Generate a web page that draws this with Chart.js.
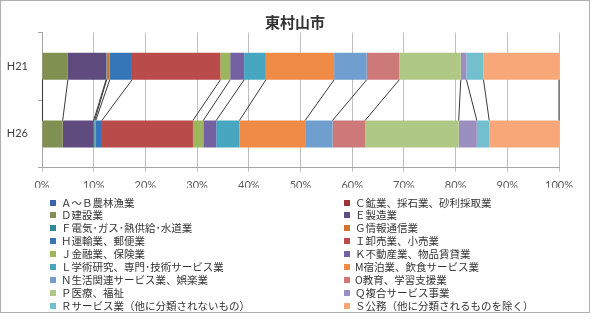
<!DOCTYPE html>
<html lang="ja">
<head>
<meta charset="utf-8">
<script src="https://cdn.jsdelivr.net/npm/chart.js@4/dist/chart.umd.min.js"></script>
<style>
  html, body { margin: 0; padding: 0; background: #fff; }
  #wrap { position: relative; width: 592px; height: 322px; overflow: hidden; }
  #frame { position: absolute; left: 0; top: 0; width: 590px; height: 313px; box-sizing: border-box; border: 1px solid #B0B0B0; }
  #title { position: absolute; left: 195px; width: 200px; top: 11px; text-align: center; font: bold 15px "Noto Sans CJK JP", sans-serif; color: #333; line-height: 22px; }
  #chart { position: absolute; left: 0; top: 0; }
  #legend { position: absolute; left: 0; top: 194.5px; width: 592px; }
  .item { position: absolute; height: 13px; line-height: 13px; font: 10.5px "Noto Sans CJK JP", sans-serif; color: #333; white-space: nowrap; }
  .item i { display: inline-block; width: 6px; height: 6px; margin-right: 5px; vertical-align: 1px; }
</style>
</head>
<body>
<div id="wrap">
  <div id="frame"></div>
  <canvas id="chart" width="592" height="322"></canvas>
  <div id="title">東村山市</div>
  <div id="legend"></div>
</div>
<script>
// 年次
const categories = ['H21', 'H26'];

// 産業大分類
const industries = [
    'Ａ～Ｂ農林漁業',
    'Ｃ鉱業、採石業、砂利採取業',
    'Ｄ建設業',
    'Ｅ製造業',
    'Ｆ電気･ガス･熱供給･水道業',
    'Ｇ情報通信業',
    'Ｈ運輸業、郵便業',
    'Ｉ卸売業、小売業',
    'Ｊ金融業、保険業',
    'Ｋ不動産業、物品賃貸業',
    'Ｌ学術研究、専門･技術サービス業',
    'M宿泊業、飲食サービス業',
    'Ｎ生活関連サービス業、娯楽業',
    'O教育、学習支援業',
    'Ｐ医療、福祉',
    'Ｑ複合サービス事業',
    'Ｒサービス業（他に分類されないもの）',
    'Ｓ公務（他に分類されるものを除く）'
];

// 構成比(%)
const valuesH21 = [0.1, 0.0, 4.9, 7.4, 0.1, 0.6, 4.3, 17.1, 1.9, 2.7, 4.2, 13.2, 6.3, 6.3, 11.9, 1.1, 3.3, 14.6];
const valuesH26 = [0.1, 0.0, 3.9, 6.0, 0.2, 0.2, 1.2, 17.6, 2.0, 2.5, 4.5, 12.7, 5.3, 6.3, 18.1, 3.5, 2.4, 13.5];

const colors = [
    '#3465A4', '#9B3532', '#7F9050', '#5F4B7D', '#31879A', '#D2742F',
    '#3576B8', '#B94B4A', '#9BB65D', '#7361A1', '#47A7C0', '#EF8A47',
    '#6F9ECF', '#CE7979', '#AFC886', '#9B8FBF', '#73BFCE', '#F8A878'
];

// Excelの区分線みたいなやつ
const seriesLines = {
    id: 'seriesLines',
    afterDatasetsDraw(chart) {
        const ctx = chart.ctx;
        ctx.save();
        ctx.strokeStyle = '#3a3a3a';
        ctx.lineWidth = 1;
        chart.data.datasets.forEach((ds, i) => {
            const bars = chart.getDatasetMeta(i).data;
            for (let j = 0; j < bars.length - 1; j++) {
                const a = bars[j], b = bars[j + 1];
                ctx.beginPath();
                ctx.moveTo(a.x, a.y + a.height / 2);
                ctx.lineTo(b.x, b.y - b.height / 2);
                ctx.stroke();
            }
        });
        ctx.restore();
    }
};

const datasets = industries.map((name, i) => ({
    label: name,
    data: [valuesH21[i], valuesH26[i]],
    backgroundColor: colors[i],
    borderWidth: 0,
    barPercentage: 0.4,
    categoryPercentage: 1
}));

new Chart(document.getElementById('chart'), {
    type: 'bar',
    data: { labels: categories, datasets: datasets },
    plugins: [seriesLines],
    options: {
        indexAxis: 'y',
        responsive: false,
        animation: false,
        layout: { padding: { left: 0, right: 33, top: 32.5, bottom: 134.3 } },
        plugins: {
            legend: { display: false },
            title: { display: false },
            tooltip: { enabled: false }
        },
        scales: {
            x: {
                stacked: true,
                min: 0,
                max: 100,
                ticks: {
                    stepSize: 10,
                    callback: v => v + '%',
                    color: '#595959',
                    font: { family: 'Lato', size: 11 },
                    padding: 7
                },
                grid: { color: '#BFBFBF', tickLength: 4 },
                border: { color: '#A6A6A6' },
                afterFit(s) { s.height = 20; }
            },
            y: {
                stacked: true,
                ticks: {
                    color: '#404040',
                    font: { family: 'Lato', size: 11 },
                    padding: 10
                },
                grid: { offset: true, drawOnChartArea: false, tickLength: 4, color: '#A6A6A6' },
                border: { color: '#A6A6A6' },
                afterFit(s) { s.width = 42; }
            }
        }
    }
});

// 凡例 (2列)
const legend = document.getElementById('legend');
industries.forEach((name, i) => {
    const el = document.createElement('div');
    el.className = 'item';
    el.style.left = (i % 2 === 0 ? 50 : 344) + 'px';
    el.style.top = (Math.floor(i / 2) * 12.9) + 'px';
    el.innerHTML = '<i style="background:' + colors[i] + '"></i>' + name;
    legend.appendChild(el);
});
</script>
</body>
</html>
